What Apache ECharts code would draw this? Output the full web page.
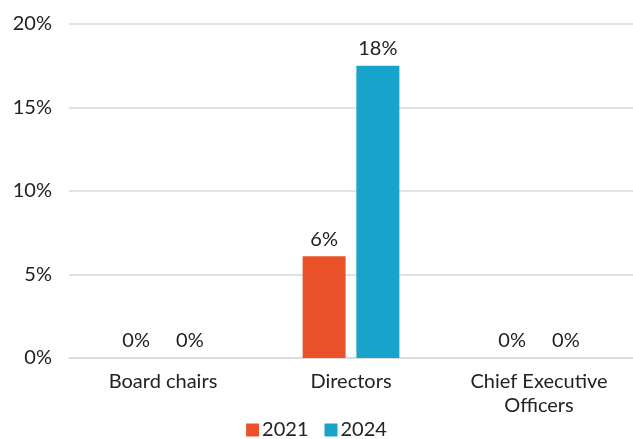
<!DOCTYPE html>
<html>
<head>
<meta charset="utf-8">
<script src="https://cdn.jsdelivr.net/npm/echarts@6/dist/echarts.min.js"></script>
<style>
  html, body { margin: 0; padding: 0; background: #fff; }
  #chart { width: 633px; height: 439px; }
</style>
</head>
<body>
<div id="chart"></div>
<script>
// Share of roles held, by year
const categories = ['Board chairs', 'Directors', 'Chief Executive\nOfficers'];
const values2021 = [0, 6.1, 0];
const values2024 = [0, 17.5, 0];
const yTicks = [0, 5, 10, 15, 20];

const FONT = 'Lato';
const TEXT = '#222222';

const chart = echarts.init(document.getElementById('chart'));

const pctLabel = {
  show: true,
  position: 'top',
  distance: 7,
  color: TEXT,
  fontFamily: FONT,
  fontSize: 20,
  formatter: p => Math.round(p.value) + '%'
};

chart.setOption({
  animation: false,
  textStyle: { fontFamily: FONT },
  grid: { left: 69, right: 0, top: 24, bottom: 81 },
  legend: {
    data: ['2021', '2024'],
    bottom: -6,
    left: 'center',
    itemWidth: 13,
    itemHeight: 13,
    itemGap: 16,
    icon: 'rect',
    textStyle: { color: TEXT, fontFamily: FONT, fontSize: 20, padding: [0, 0, 0, -2] }
  },
  xAxis: {
    type: 'category',
    data: categories,
    axisLine: { lineStyle: { color: '#d9d9d9', width: 1.5 } },
    axisTick: { show: false },
    axisLabel: { color: TEXT, fontFamily: FONT, fontSize: 20, margin: 12, lineHeight: 24 }
  },
  yAxis: {
    type: 'value',
    min: yTicks[0],
    max: yTicks[yTicks.length - 1],
    interval: 5,
    axisLine: { show: false },
    axisTick: { show: false },
    splitLine: { lineStyle: { color: '#d9d9d9', width: 1.5 } },
    axisLabel: { color: TEXT, fontFamily: FONT, fontSize: 20, margin: 17, formatter: v => v + '%' }
  },
  series: [
    {
      name: '2021',
      type: 'bar',
      data: values2021,
      barWidth: 43,
      barGap: '25%',
      itemStyle: { color: '#EA5329' },
      label: pctLabel
    },
    {
      name: '2024',
      type: 'bar',
      data: values2024,
      barWidth: 43,
      itemStyle: { color: '#18A3CB' },
      label: pctLabel
    }
  ]
});
</script>
</body>
</html>
